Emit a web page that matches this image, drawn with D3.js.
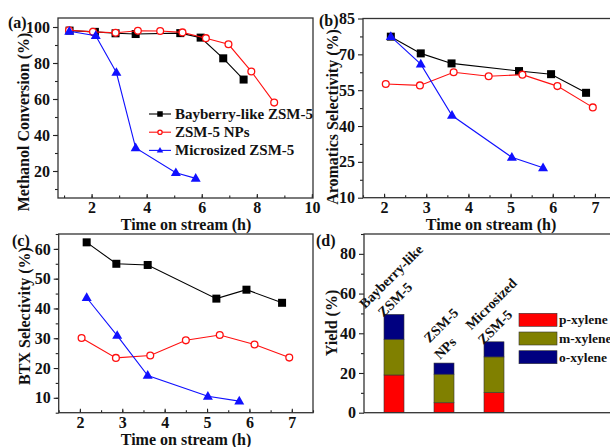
<!DOCTYPE html>
<html><head><meta charset="utf-8">
<script src="https://cdn.jsdelivr.net/npm/d3@7"></script>
<style>
body{margin:0;background:#fff}
text{font-family:"Liberation Serif","Times New Roman",serif;font-weight:bold;fill:#111}
</style>
</head><body>
<svg id="chart" width="610" height="447"></svg>
<script>
// ---------- data ----------
const seriesNames = ["Bayberry-like ZSM-5", "ZSM-5 NPs", "Microsized ZSM-5"];

// (a) Methanol conversion
const bayA_t = [1.2, 2.12, 2.87, 3.6, 5.22, 5.96, 6.78, 7.52];
const bayA_v = [98.0, 97.3, 96.5, 96.1, 96.6, 94.1, 82.6, 70.8];
const npsA_t = [1.18, 2.05, 2.87, 3.68, 4.49, 5.3, 6.15, 6.97, 7.8, 8.63];
const npsA_v = [98.2, 97.3, 96.8, 97.9, 97.8, 97.0, 93.8, 90.4, 75.3, 58.0];
const micA_t = [1.19, 2.15, 2.9, 3.6, 5.06, 5.78];
const micA_v = [97.6, 95.2, 74.7, 32.8, 19.0, 15.9];

// (b) Aromatics selectivity
const bayB_t = [2.16, 2.87, 3.6, 5.2, 5.96, 6.79];
const bayB_v = [77.4, 70.4, 66.2, 63.0, 61.7, 53.9];
const npsB_t = [2.04, 2.85, 3.65, 4.48, 5.28, 6.11, 6.95];
const npsB_v = [57.6, 57.0, 62.5, 60.8, 61.5, 56.7, 47.8];
const micB_t = [2.16, 2.87, 3.61, 5.03, 5.77];
const micB_v = [77.4, 65.9, 44.4, 26.9, 22.5];

// (c) BTX selectivity
const bayC_t = [2.16, 2.86, 3.6, 5.22, 5.93, 6.77];
const bayC_v = [62.2, 55.0, 54.6, 43.3, 46.3, 41.9];
const npsC_t = [2.04, 2.85, 3.66, 4.5, 5.3, 6.12, 6.94];
const npsC_v = [30.1, 23.4, 24.2, 29.3, 31.1, 27.9, 23.5];
const micC_t = [2.16, 2.88, 3.6, 5.02, 5.76];
const micC_v = [43.6, 30.9, 17.5, 10.5, 8.9];

// (d) xylene yields
const catalystLines = [["Bayberry-like", "ZSM-5"], ["ZSM-5", "NPs"], ["Microsized", "ZSM-5"]];
const xyleneNames = ["p-xylene", "m-xylene", "o-xylene"];
const pXylene = [19.0, 5.0, 10.1];
const mXylene = [18.0, 14.4, 18.0];
const oXylene = [12.5, 5.6, 7.6];

// tick labels
const ticksA_x = [2, 4, 6, 8, 10], ticksA_y = [20, 40, 60, 80, 100];
const ticksB_x = [2, 3, 4, 5, 6, 7], ticksB_y = [10, 25, 40, 55, 70, 85];
const ticksC_x = [2, 3, 4, 5, 6, 7], ticksC_y = [10, 20, 30, 40, 50, 60];
const ticksD_y = [0, 20, 40, 60, 80];

// ---------- drawing ----------
const svg = d3.select("#chart");
const colors = ["#000000", "#ff1010", "#1010ff"];
const barColors = ["#ff0000", "#808000", "#000080"];
const zip = (t, v) => t.map((d, i) => [d, v[i]]);

function frame(g, x, y, xMajor, xMinor, yMajor, yMinor) {
  const [x0, x1] = x.range(), [y0, y1] = y.range();
  const la = g.append("g").attr("transform", `translate(${x0},0)`)
    .call(d3.axisLeft(y).tickValues(yMajor).tickSize(5).tickPadding(3).tickFormat(d3.format("d")));
  la.select(".domain").remove();
  la.selectAll("text").style("font-size", "16px").style("font-family", null);
  const lm = g.append("g").attr("transform", `translate(${x0},0)`)
    .call(d3.axisLeft(y).tickValues(yMinor).tickSize(3).tickFormat(""));
  lm.select(".domain").remove();
  if (xMajor) {
    const ba = g.append("g").attr("transform", `translate(0,${y0})`)
      .call(d3.axisBottom(x).tickValues(xMajor).tickSize(-4).tickPadding(4).tickFormat(d3.format("d")));
    ba.select(".domain").remove();
    ba.selectAll("text").style("font-size", "16px").style("font-family", null);
    const bm = g.append("g").attr("transform", `translate(0,${y0})`)
      .call(d3.axisBottom(x).tickValues(xMinor).tickSize(-2.5).tickFormat(""));
    bm.select(".domain").remove();
  }
  g.selectAll(".tick line").attr("stroke", "#222").attr("stroke-width", 1.1);
  g.append("rect").attr("x", x0).attr("y", y1).attr("width", x1 - x0).attr("height", y0 - y1)
    .attr("fill", "none").attr("stroke", "#333").attr("stroke-width", 1.3);
}

function marker(g, kind, cx, cy, s, color) {
  if (kind === 0) {
    g.append("rect").attr("x", cx - s / 2).attr("y", cy - s / 2).attr("width", s).attr("height", s)
      .attr("fill", color);
  } else if (kind === 1) {
    g.append("circle").attr("cx", cx).attr("cy", cy).attr("r", s / 2 - 0.6)
      .attr("fill", "#fff").attr("stroke", color).attr("stroke-width", 1.3);
  } else {
    const h = s * 0.87;
    g.append("path").attr("d", `M${cx},${cy - h * 0.62}L${cx + s / 2},${cy + h * 0.38}L${cx - s / 2},${cy + h * 0.38}Z`)
      .attr("fill", color);
  }
}

function series(g, x, y, data, k) {
  const line = d3.line().x(d => x(d[0])).y(d => y(d[1]));
  g.append("path").datum(data).attr("d", line).attr("fill", "none")
    .attr("stroke", colors[k]).attr("stroke-width", 1.1);
  data.forEach(d => marker(g, k, x(d[0]), y(d[1]), k === 2 ? 10 : 8, colors[k]));
}

function title(g, txt, x, y, rot) {
  g.append("text").attr("text-anchor", "middle")
    .attr("transform", `translate(${x},${y})` + (rot ? " rotate(-90)" : ""))
    .style("font-size", "16px").text(txt);
}

// ---- (a)
{
  const g = svg.append("g");
  const x = d3.scaleLinear().domain([0.78, 10.04]).range([58, 313]);
  const y = d3.scaleLinear().domain([5, 105]).range([198, 18]);
  frame(g, x, y, ticksA_x, d3.range(1, 10.01, 1), ticksA_y, d3.range(10, 100.1, 10));
  series(g, x, y, zip(bayA_t, bayA_v), 0);
  series(g, x, y, zip(npsA_t, npsA_v), 1);
  series(g, x, y, zip(micA_t, micA_v), 2);
  seriesNames.forEach((n, k) => {
    const ly = 114 + k * 18.2;
    g.append("line").attr("x1", 149).attr("x2", 171).attr("y1", ly).attr("y2", ly)
      .attr("stroke", colors[k]).attr("stroke-width", 1.1);
    marker(g, k, 160, ly, k === 2 ? 6.5 : 5.5, colors[k]);
    g.append("text").attr("x", 175).attr("y", ly + 5).style("font-size", "15px").text(n);
  });
  title(g, "Time on stream (h)", 186, 230, false);
  title(g, "Methanol Conversion (%)", 29, 122, true);
  g.append("text").attr("x", 8).attr("y", 28).style("font-size", "16px").text("(a)");
}

// ---- (b)
{
  const g = svg.append("g");
  const x = d3.scaleLinear().domain([1.5, 7.5]).range([363, 616]);
  const y = d3.scaleLinear().domain([10, 85]).range([197.7, 18.5]);
  frame(g, x, y, ticksB_x, d3.range(1.5, 7.51, 0.5), ticksB_y, d3.range(17.5, 85, 15));
  series(g, x, y, zip(bayB_t, bayB_v), 0);
  series(g, x, y, zip(npsB_t, npsB_v), 1);
  series(g, x, y, zip(micB_t, micB_v), 2);
  title(g, "Time on stream (h)", 491, 230, false);
  title(g, "Aromatics Selectivity (%)", 338, 117, true);
  g.append("text").attr("x", 319).attr("y", 26).style("font-size", "16px").text("(b)");
}

// ---- (c)
{
  const g = svg.append("g");
  const x = d3.scaleLinear().domain([1.5, 7.5]).range([58.7, 313]);
  const y = d3.scaleLinear().domain([5, 65]).range([412.7, 234]);
  frame(g, x, y, ticksC_x, d3.range(1.5, 7.51, 0.5), ticksC_y, d3.range(5, 65.1, 5));
  series(g, x, y, zip(bayC_t, bayC_v), 0);
  series(g, x, y, zip(npsC_t, npsC_v), 1);
  series(g, x, y, zip(micC_t, micC_v), 2);
  title(g, "Time on stream (h)", 186, 445, false);
  title(g, "BTX Selectivity (%)", 30, 316, true);
  g.append("text").attr("x", 12).attr("y", 246).style("font-size", "16px").text("(c)");
}

// ---- (d)
{
  const g = svg.append("g");
  const x = d3.scaleLinear().domain([0.4, 5.52]).range([364, 620]);
  const y = d3.scaleLinear().domain([0, 90]).range([412.7, 234]);
  const bw = x(1.4) - x(1.0);
  const stacks = [pXylene, mXylene, oXylene];
  catalystLines.forEach((lines, i) => {
    let base = 0;
    stacks.forEach((arr, k) => {
      const v = arr[i];
      g.append("rect").attr("x", x(i + 1) - bw / 2).attr("y", y(base + v))
        .attr("width", bw).attr("height", y(base) - y(base + v))
        .attr("fill", barColors[k]).attr("stroke", "#333").attr("stroke-width", 0.6);
      base += v;
    });
    const cx = x(i + 1), top = y(base);
    g.append("text").attr("text-anchor", "middle")
      .attr("transform", `translate(${cx - 3},${top - 38}) rotate(-45)`)
      .attr("dy", "0.35em").style("font-size", "14px").text(lines[0]);
    g.append("text").attr("text-anchor", "middle")
      .attr("transform", `translate(${cx + 1},${top - 15}) rotate(-45)`)
      .attr("dy", "0.35em").style("font-size", "14px").text(lines[1]);
  });
  frame(g, x, y, null, null, ticksD_y, d3.range(10, 90.1, 20));
  xyleneNames.forEach((n, k) => {
    const ly = 313.3 + k * 18.7;
    g.append("rect").attr("x", 519).attr("y", ly).attr("width", 38).attr("height", 13)
      .attr("fill", barColors[k]).attr("stroke", "#333").attr("stroke-width", 0.6);
    g.append("text").attr("x", 559).attr("y", ly + 11).style("font-size", "13.5px").text(n);
  });
  title(g, "Yield (%)", 337, 323, true);
  g.append("text").attr("x", 316).attr("y", 246).style("font-size", "16px").text("(d)");
}
</script>
</body></html>
